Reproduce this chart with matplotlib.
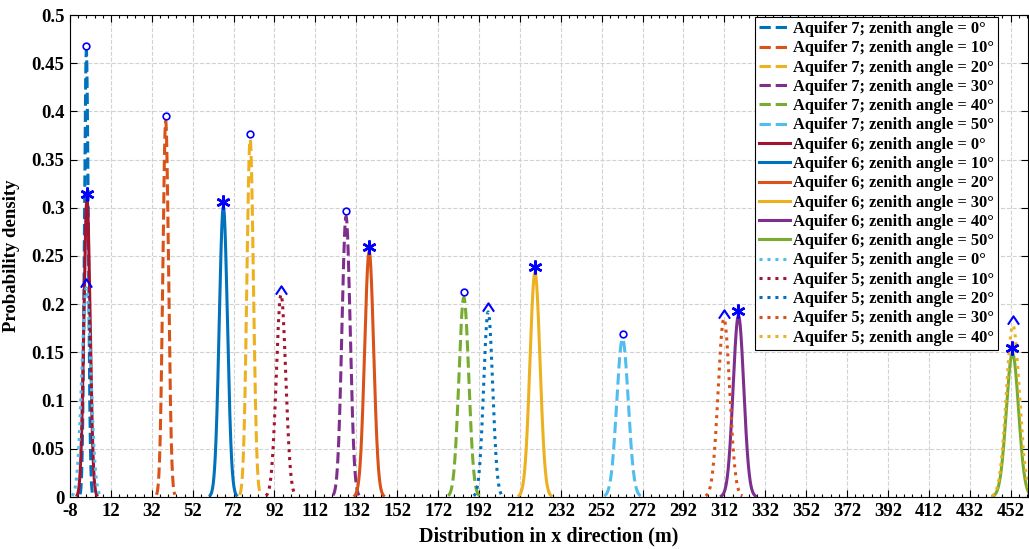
import numpy as np
import matplotlib
matplotlib.use("Agg")
import matplotlib.pyplot as plt
import matplotlib.transforms as mtransforms
from matplotlib.path import Path
from matplotlib.ticker import MultipleLocator, FixedLocator, FuncFormatter

plt.rcParams['font.family'] = ['Liberation Serif', 'DejaVu Serif']
plt.rcParams['font.weight'] = 'bold'
plt.rcParams['axes.labelweight'] = 'bold'
plt.rcParams['axes.unicode_minus'] = False

# peak position (m), peak density and spread (m) of each distribution
angles_7 = [0, 10, 20, 30, 40, 50]
centers_7 = [0.0, 38.8, 80.1, 127.0, 184.6, 262.2]
peaks_7 = [0.463, 0.390, 0.371, 0.291, 0.207, 0.164]
spread_7 = [0.95, 1.4, 1.6, 2.0, 2.4, 2.8]

angles_6 = [0, 10, 20, 30, 40, 50]
centers_6 = [0.3, 67.0, 138.3, 219.4, 318.9, 452.9]
peaks_6 = [0.309, 0.301, 0.2545, 0.233, 0.188, 0.149]
spread_6 = [1.5, 2.0, 2.2, 2.45, 2.6, 3.0]

angles_5 = [0, 10, 20, 30, 40]
centers_5 = [0.0, 95.2, 196.5, 311.8, 453.1]
peaks_5 = [0.217, 0.210, 0.192, 0.185, 0.178]
spread_5 = [2.2, 2.3, 2.2, 2.8, 3.2]

# matlab default colour order
mcol = ['#0072BD', '#D95319', '#EDB120', '#7E2F8E', '#77AC30', '#4DBEEE', '#A2142F']
colors_7 = mcol[0:6]
colors_6 = [mcol[6]] + mcol[0:5]
colors_5 = [mcol[5], mcol[6]] + mcol[0:3]

xticks = np.arange(-8, 453, 20)

fig = plt.figure(figsize=(10.29, 5.49), dpi=100)
ax = fig.add_axes([70/1029, 52/549, 958/1029, 482/549])

lift = mtransforms.ScaledTranslation(0, 3.6/72, fig.dpi_scale_trans)
caret = Path([(-1, -0.75), (0, 0.75), (1, -0.75)],
             [Path.MOVETO, Path.LINETO, Path.LINETO])


def density(mu, peak, sd):
    x = np.linspace(mu - 3.2 * sd, mu + 3.2 * sd, 400)
    return x, peak * np.exp(-0.5 * ((x - mu) / sd) ** 2)


groups = [
    (7, angles_7, centers_7, peaks_7, spread_7, colors_7, '--'),
    (6, angles_6, centers_6, peaks_6, spread_6, colors_6, '-'),
    (5, angles_5, centers_5, peaks_5, spread_5, colors_5, (0, (1, 1.6))),
]
for aq, angs, cens, pks, sds, cols, ls in groups:
    for a, mu, pk, sd, c in zip(angs, cens, pks, sds, cols):
        x, y = density(mu, pk, sd)
        ax.plot(x, y, color=c, ls=ls, lw=2.2,
                label=f'Aquifer {aq}; zenith angle = {a}\u00b0')

# peak symbols
tr = ax.transData + lift
ax.plot(centers_7, peaks_7, ls='none', marker='o', ms=4.8, mfc='none',
        mec='blue', mew=1.2, transform=tr)
ax.plot(centers_6, peaks_6, ls='none', marker=(6, 2, 0), ms=10,
        mec='blue', mew=1.8, transform=tr)
ax.plot(centers_5, peaks_5, ls='none', marker=caret, ms=8, mfc='none',
        mec='blue', mew=1.5, transform=tr)

ax.set_xlim(-8, 460.5)
ax.set_ylim(0, 0.5)
ax.xaxis.set_major_locator(FixedLocator(xticks))
ax.xaxis.set_minor_locator(MultipleLocator(4))
ax.yaxis.set_major_locator(MultipleLocator(0.05))
ax.yaxis.set_major_formatter(FuncFormatter(lambda v, p: f'{round(v, 3):g}'))
ax.set_xticklabels([str(t) for t in xticks])
ax.tick_params(which='both', direction='in', top=True, right=True,
               labelsize=13.5, width=0.8, pad=4)
ax.tick_params(which='major', length=5)
ax.tick_params(which='minor', length=2.5)
ax.grid(True, which='major', ls='--', color='#d2d2d2', lw=0.8)
for s in ax.spines.values():
    s.set_linewidth(0.8)

ax.set_xlabel('Distribution in x direction (m)', fontsize=14.5, labelpad=5)
ax.set_ylabel('Probability density', fontsize=13.5, labelpad=8)

leg = ax.legend(loc='upper right', bbox_to_anchor=(0.9687, 0.9959),
                borderaxespad=0, fontsize=11.8, frameon=True, fancybox=False,
                framealpha=1, edgecolor='black', handlelength=1.9,
                handletextpad=0.15, labelspacing=0.2, borderpad=0.25)
leg.get_frame().set_linewidth(0.8)

fig.savefig('out.png', dpi=100)
